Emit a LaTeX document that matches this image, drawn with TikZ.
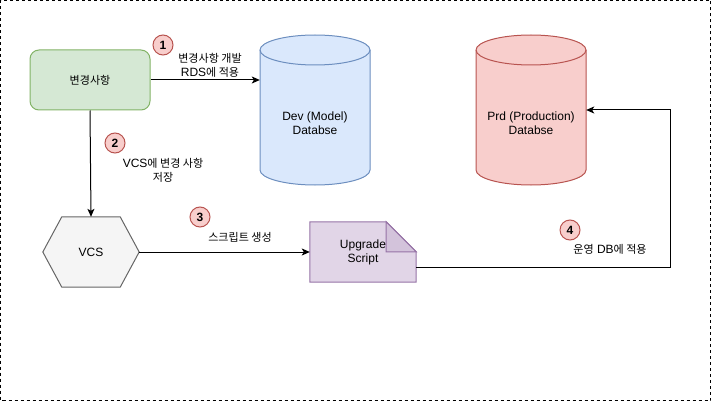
\documentclass[tikz,border=0pt]{standalone}
\usepackage{fontspec}
\setmainfont{Liberation Sans}
\newfontfamily\kr[Scale=0.92]{Noto Sans CJK KR}
\usetikzlibrary{arrows.meta,calc,backgrounds}
\definecolor{greenF}{HTML}{D5E8D4}
\definecolor{greenS}{HTML}{82B366}
\definecolor{blueF}{HTML}{DAE8FC}
\definecolor{blueS}{HTML}{6C8EBF}
\definecolor{redF}{HTML}{F8CECC}
\definecolor{redS}{HTML}{B85450}
\definecolor{grayF}{HTML}{F5F5F5}
\definecolor{grayS}{HTML}{666666}
\definecolor{purpF}{HTML}{E1D5E7}
\definecolor{purpS}{HTML}{9673A6}
\definecolor{purpD}{HTML}{D3C3DB}
\tikzset{
  box/.style={align=center, inner sep=0pt, text=black},
  lbl/.style={align=center, inner sep=0pt, text=black},
  badge/.style={circle, draw=redS, fill=redF, minimum size=20pt, inner sep=0pt, line width=1pt, font=\fontsize{12}{14}\selectfont\bfseries},
  arr/.style={-{Stealth[length=8pt,width=7pt,inset=2pt]}, line width=1pt},
  shp/.style={line width=1pt},
  frame/.style={line width=0.8pt, dash pattern=on 3pt off 3pt}
}
\begin{document}
\begin{tikzpicture}[x=1pt,y=1pt,font=\fontsize{12}{14}\selectfont]
\useasboundingbox (0,0) rectangle (711,-401);
\draw[frame] (0.5,-0.5) rectangle (710.5,-400.5);

% nodes
\node[box, draw=greenS, fill=greenF, shp, rounded corners=9pt, minimum width=120pt, minimum height=60pt] (chg) at (90,-80) {\kr 변경사항};
\node[box, minimum width=110pt, minimum height=150pt] (dev) at (315,-110) {};
\node[lbl] (devt) at (315,-123) {Dev (Model)\\Databse};
\node[box, minimum width=110pt, minimum height=150pt] (prd) at (531,-110) {};
\node[lbl] (prdt) at (531,-123) {Prd (Production)\\Databse};
\node[box, minimum width=96pt, minimum height=70pt] (vcs) at (91,-252) {VCS};
\node[box, minimum width=106pt, minimum height=60pt] (note) at (363,-252) {Upgrade\\Script};

\begin{pgfonlayer}{background}
% dev cylinder
\draw[shp, draw=blueS, fill=blueF] (260,-50) -- (260,-170) arc (180:360:55 and 15) -- (370,-50) arc (0:180:55 and 15) -- cycle;
\draw[shp, draw=blueS] (260,-50) arc (180:360:55 and 15);
% prd cylinder
\draw[shp, draw=redS, fill=redF] (476,-50) -- (476,-170) arc (180:360:55 and 15) -- (586,-50) arc (0:180:55 and 15) -- cycle;
\draw[shp, draw=redS] (476,-50) arc (180:360:55 and 15);
% hexagon
\draw[shp, draw=grayS, fill=grayF] (vcs.west) -- ($(vcs.north west)+(19,0)$) -- ($(vcs.north east)+(-19,0)$) -- (vcs.east) -- ($(vcs.south east)+(-19,0)$) -- ($(vcs.south west)+(19,0)$) -- cycle;
% note
\draw[shp, draw=purpS, fill=purpF] (note.north west) -- ($(note.north east)+(-30,0)$) -- ($(note.north east)+(0,-30)$) -- (note.south east) -- (note.south west) -- cycle;
\draw[shp, draw=purpS, fill=purpD] ($(note.north east)+(-30,0)$) -- ($(note.north east)+(-30,-30)$) -- ($(note.north east)+(0,-30)$) -- cycle;
\end{pgfonlayer}

% connectors
\draw[arr] (chg.east) -- (chg.east -| dev.west);
\draw[arr] (chg.south) -- (vcs.north);
\draw[arr] (vcs.east) -- (note.west);
\coordinate (n4) at ($(note.east)+(0,-15)$);
\coordinate (c4) at (670,-267);
\draw[arr] (n4) -- (c4) |- (prd.east);

% badges
\node[badge] (b1) at (163,-45) {1};
\node[badge] (b2) at (115,-143) {2};
\node[badge] (b3) at (200,-217) {3};
\node[badge] (b4) at (570,-230) {4};

% labels
\node[lbl] (l1) at (210,-65) {{\kr 변경사항 개발}\\RDS{\kr 에 적용}};
\node[lbl] (l2) at (163,-170) {VCS{\kr 에 변경 사항}\\{\kr 저장}};
\node[lbl] (l3) at (240,-237) {\kr 스크립트 생성};
\node[lbl] (l4) at (610,-249) {{\kr 운영} DB{\kr 에 적용}};
\end{tikzpicture}
\end{document}
